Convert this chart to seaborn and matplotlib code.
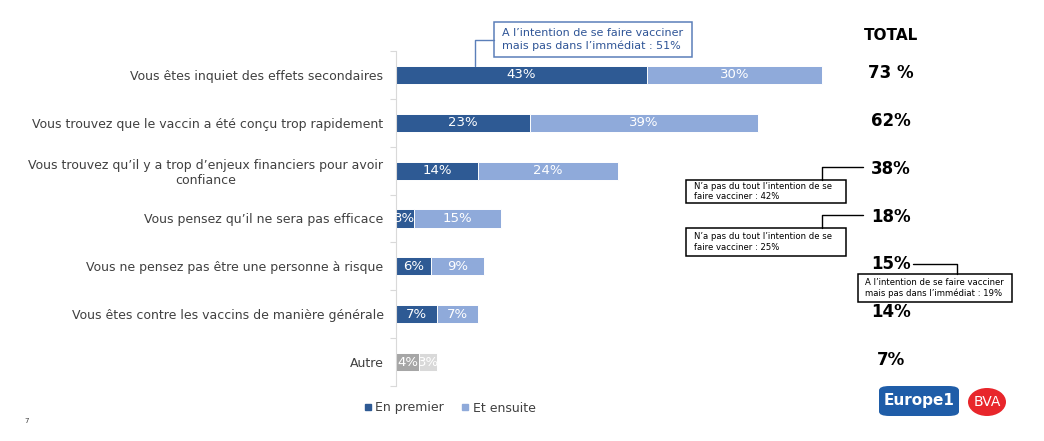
import matplotlib
matplotlib.use("Agg")
import matplotlib.pyplot as plt
import matplotlib.transforms as mtransforms
from matplotlib.lines import Line2D
from matplotlib.patches import Rectangle, FancyBboxPatch, Ellipse
import seaborn as sns
import pandas as pd
import numpy as np

categories = [
    "Vous êtes inquiet des effets secondaires",
    "Vous trouvez que le vaccin a été conçu trop rapidement",
    "Vous trouvez qu’il y a trop d’enjeux financiers pour avoir\nconfiance",
    "Vous pensez qu’il ne sera pas efficace",
    "Vous ne pensez pas être une personne à risque",
    "Vous êtes contre les vaccins de manière générale",
    "Autre",
]
en_premier = [43, 23, 14, 3, 6, 7, 4]
et_ensuite = [30, 39, 24, 15, 9, 7, 3]
total_labels = ["73 %", "62%", "38%", "18%", "15%", "14%", "7%"]

callouts = [
    "A l’intention de se faire vacciner\nmais pas dans l’immédiat : 51%",
    "N’a pas du tout l’intention de se\nfaire vacciner : 42%",
    "N’a pas du tout l’intention de se\nfaire vacciner : 25%",
    "A l’intention de se faire vacciner\nmais pas dans l’immédiat : 19%",
]

DARK = "#2E5A94"
LIGHT = "#8FAADA"
GREY_D = "#A6A6A6"
GREY_L = "#D9D9D9"
TXT = "#404040"

W, H = 1044, 441

sns.set_style("white")
plt.rcParams["font.family"] = ["DejaVu Sans"]

df = pd.DataFrame({
    "cat": categories,
    "first": en_premier,
    "total": [a + b for a, b in zip(en_premier, et_ensuite)],
})

fig = plt.figure(figsize=(W / 100, H / 100), dpi=100)
ax = fig.add_axes([396 / W, 1 - 386 / H, 584 / W, 335 / H])

light_pal = [LIGHT] * 6 + [GREY_L]
dark_pal = [DARK] * 6 + [GREY_D]
sns.barplot(data=df, x="total", y="cat", hue="cat", palette=light_pal, legend=False,
            width=0.38, edgecolor="white", linewidth=0.7, orient="h", saturation=1, ax=ax)
sns.barplot(data=df, x="first", y="cat", hue="cat", palette=dark_pal, legend=False,
            width=0.38, edgecolor="white", linewidth=0.7, orient="h", saturation=1, ax=ax)

for i, (a, b) in enumerate(zip(en_premier, et_ensuite)):
    ax.text(a / 2, i, f"{a}%", ha="center", va="center", color="white", fontsize=9.5)
    ax.text(a + b / 2, i, f"{b}%", ha="center", va="center", color="white", fontsize=9.5)

ax.set_xlim(0, 100)
ax.set_ylim(6.5, -0.5)
ax.set_xlabel("")
ax.set_ylabel("")
ax.set_xticks([])
ax.set_yticks(np.arange(-0.5, 7, 1), minor=True)
ax.tick_params(axis="y", which="major", length=0, pad=9, labelsize=9, labelcolor=TXT)
ax.tick_params(axis="y", which="minor", length=4, color=GREY_L, width=0.8, left=True)
for s in ["top", "right", "bottom"]:
    ax.spines[s].set_visible(False)
ax.spines["left"].set_color(GREY_L)
ax.spines["left"].set_linewidth(0.8)
for lab in ax.get_yticklabels():
    lab.set_multialignment("center")

# total column
tr = mtransforms.blended_transform_factory(fig.transFigure, ax.transData)
fig.text(891 / W, 1 - 35 / H, "TOTAL", ha="center", va="center",
         fontsize=11, fontweight="bold", color="black")
for i, t in enumerate(total_labels):
    ax.text(891 / W, i - 0.04, t, transform=tr, ha="center", va="center",
            fontsize=12, fontweight="bold", color="black")


def px(x, y):
    return x / W, 1 - y / H


def line(points, color):
    xs = [p[0] / W for p in points]
    ys = [1 - p[1] / H for p in points]
    fig.add_artist(Line2D(xs, ys, transform=fig.transFigure, color=color, lw=1))


def box(x0, y0, x1, y1, text, color, ec, size, inset=8):
    fig.add_artist(Rectangle(px(x0, y1), (x1 - x0) / W, (y1 - y0) / H,
                             transform=fig.transFigure, fc="white", ec=ec, lw=1.1))
    fig.text((x0 + inset) / W, 1 - (y0 + y1) / 2 / H, text, ha="left", va="center",
             color=color, fontsize=size, linespacing=1.25)


# callouts
line([(494, 40), (475, 40), (475, 66)], "#5B7FB9")
box(494, 22, 692, 57, callouts[0], "#2F5597", "#5B7FB9", 8)
line([(822, 180), (822, 167), (863, 167)], "black")
box(686, 180, 846, 203, callouts[1], "black", "black", 6.1)
line([(822, 228), (822, 215), (863, 215)], "black")
box(686, 228, 846, 256, callouts[2], "black", "black", 6.1)
line([(913, 264), (957, 264), (957, 274)], "black")
box(858, 274, 1012, 302, callouts[3], "black", "black", 6.1, inset=7)

# legend
handles = [
    Line2D([], [], marker="s", ls="", color=DARK, markersize=5, label="En premier"),
    Line2D([], [], marker="s", ls="", color=LIGHT, markersize=5, label="Et ensuite"),
]
fig.legend(handles=handles, loc="center", bbox_to_anchor=(449 / W, 1 - 408 / H),
           ncol=2, frameon=False, fontsize=9, handletextpad=0.2, columnspacing=1.3,
           handlelength=0.8, labelcolor=TXT)

# page number
fig.text(27 / W, 1 - 421 / H, "7", fontsize=5, color=TXT, ha="center", va="center")

# logos
fig.add_artist(FancyBboxPatch(px(879, 416), 80 / W, 30 / H, boxstyle="round,pad=0,rounding_size=0.01",
                              transform=fig.transFigure, fc="#1F5DA8", ec="none"))
fig.text(919 / W, 1 - 401 / H, "Europe1", ha="center", va="center", color="white",
         fontsize=11, fontweight="bold")
fig.add_artist(Ellipse(px(987, 402), 38 / W, 28 / H, transform=fig.transFigure,
                       fc="#E8262B", ec="none"))
fig.text(987 / W, 1 - 402 / H, "BVA", ha="center", va="center", color="white",
         fontsize=10)

fig.savefig("out.png", dpi=100)
